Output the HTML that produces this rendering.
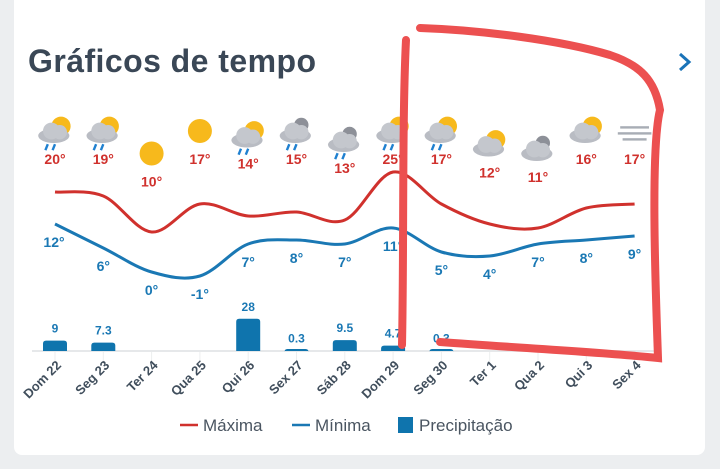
<!DOCTYPE html>
<html><head><meta charset="utf-8"><style>
body{margin:0;width:720px;height:469px;background:#eceef0;overflow:hidden;font-family:"Liberation Sans",sans-serif}
#card{position:absolute;left:14px;top:-10px;width:691px;height:465px;background:#fff;border-radius:8px}
</style></head><body>
<div id="card"></div>
<svg id="chart" width="720" height="469" style="position:absolute;left:0;top:0">
<text x="28" y="72" font-size="32" font-weight="bold" fill="#3a4756" textLength="288">Gráficos de tempo</text>
<path d="M680 54 L689 62 L680 70" stroke="#1a73b8" stroke-width="3" fill="none"/>
<g id="g"></g>
<path d="M406 40 C402 120 404 250 402 345 M440 342 C520 348 600 352 658 358 C656 300 650 150 660 110 C655 80 640 65 610 55 C560 40 480 30 420 28" stroke="#ec5050" stroke-width="8" fill="none" stroke-linecap="round"/>
<g>
<line x1="180" y1="425" x2="198" y2="425" stroke="#d0312d" stroke-width="2.5"/>
<text x="203" y="431" font-size="17" fill="#4a5561">Máxima</text>
<line x1="292" y1="425" x2="310" y2="425" stroke="#1a78b4" stroke-width="2.5"/>
<text x="315" y="431" font-size="17" fill="#4a5561">Mínima</text>
<rect x="398" y="417" width="15" height="16" fill="#0f74ad"/>
<text x="419" y="431" font-size="17" fill="#4a5561">Precipitação</text>
</g>
</svg>
<script>
const days=["Dom 22","Seg 23","Ter 24","Qua 25","Qui 26","Sex 27","Sáb 28","Dom 29","Seg 30","Ter 1","Qua 2","Qui 3","Sex 4"];
const maxT=[20,19,10,17,14,15,13,25,17,12,11,16,17];
const minT=[12,6,0,-1,7,8,7,11,5,4,7,8,9];
const precip=[9,7.3,0,0,28,0.3,9.5,4.7,0.3,0,0,0,0];
const icons=["scr","scr","s","s","scr","cr","cr","scr","scr","sc","c","sc","f"];
const NS="http://www.w3.org/2000/svg",g=document.getElementById('g');
const X=i=>55+i*48.3, Y=v=>272-4*v, PY=v=>351-v*1.15;
function mk(t,a,p){const e=document.createElementNS(NS,t);for(const k in a)e.setAttribute(k,a[k]);(p||g).appendChild(e);return e;}
function curve(vals){const p=vals.map((v,i)=>[X(i),Y(v)]);let d=`M${p[0][0]} ${p[0][1]}`;
for(let i=0;i<p.length-1;i++){const p0=p[i-1]||p[i],p1=p[i],p2=p[i+1],p3=p[i+2]||p2;
d+=` C${p1[0]+(p2[0]-p0[0])/6} ${p1[1]+(p2[1]-p0[1])/6} ${p2[0]-(p3[0]-p1[0])/6} ${p2[1]-(p3[1]-p1[1])/6} ${p2[0]} ${p2[1]}`;}return d;}
const base=mk('line',{x1:32,y1:351,x2:660,y2:351,stroke:'#e6e8ea','stroke-width':2});


days.forEach((d,i)=>{
 const x=X(i);
 const tk=mk('line',{x1:x,y1:352,x2:x,y2:364,stroke:'#eceeef'});
 
 
 const t=mk('text',{x:0,y:0,'font-size':13,'font-weight':'bold',fill:'#404e5c','text-anchor':'end',transform:`translate(${x+7},${366}) rotate(-45)`});
 t.textContent=d;
 
 
 if(precip[i]>0){
  const h=Math.max(precip[i]*1.15,2);
  const r=mk('path',{d:`M${x-12} 351 V${351-h+3} q0 -3 3 -3 h18 q3 0 3 3 V351 Z`,fill:'#0f74ad'});
  
  
  const pl=mk('text',{x:x,y:PY(precip[i])-8,'font-size':12,'font-weight':'bold',fill:'#1a78b4','text-anchor':'middle'});
  pl.textContent=precip[i];
  
  
 }
});
const lmax=mk('path',{d:curve(maxT),stroke:'#d0312d','stroke-width':3,fill:'none'});


const lmin=mk('path',{d:curve(minT),stroke:'#1a78b4','stroke-width':3,fill:'none'});


function icon(type,cx,cy){
 const ig=mk('g',{transform:`translate(${cx},${cy}) scale(1.2)`});
 
 
 cx=0;cy=0;
 if(type=='s'){mk('circle',{cx:cx,cy:cy,r:10,fill:'#f7b91c'},ig);return;}
 if(type=='f'){[[-12,-4,24],[-14,1,28],[-10,6,20]].forEach(a=>mk('rect',{x:cx+a[0],y:cy+a[1],width:a[2],height:2,fill:'#a8adb5'},ig));return;}
 if(type.includes('s'))mk('circle',{cx:cx+5,cy:cy-4,r:8,fill:'#f7b91c'},ig);
 const dark=type[0]=='c';
 if(dark){mk('circle',{cx:cx+4,cy:cy-5,r:6,fill:'#8d9098'},ig);}
 mk('ellipse',{cx:cx-1,cy:cy+4,rx:13,ry:6,fill:'#b9bcc3'},ig);
 mk('circle',{cx:cx-3,cy:cy,r:7,fill:'#c4c7cd'},ig);
 mk('circle',{cx:cx+4,cy:cy+1,r:6,fill:'#c4c7cd'},ig);
 if(type.includes('r'))[-6,0].forEach(o=>mk('path',{d:`M${cx+o} ${cy+11} l-2 5`,stroke:'#1f80d0','stroke-width':2},ig));
}
maxT.forEach((v,i)=>{
 const x=X(i);
 const ly=v>=15?164:164+(15-v)*4.5;
 const t=mk('text',{x:x,y:ly,'font-size':14,'font-weight':'bold',fill:'#d0312d','text-anchor':'middle'});
 t.textContent=v+'°';
 
 
 icon(icons[i],x,ly-33);
});
minT.forEach((v,i)=>{
 const t=mk('text',{x:X(i)-(i==0?1:0),y:Y(v)+23,'font-size':14,'font-weight':'bold',fill:'#1a78b4','text-anchor':'middle'});
 t.textContent=v+'°';
 
 
});
</script>
</body></html>
